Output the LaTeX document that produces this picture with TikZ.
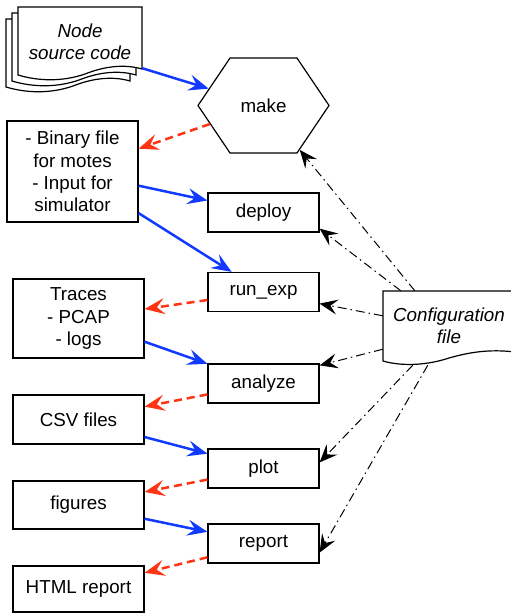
\documentclass[tikz,border=0pt]{standalone}
\usepackage{fontspec}
\setmainfont{Liberation Sans}
\usetikzlibrary{arrows.meta, shapes.symbols}
\definecolor{flowblue}{RGB}{18,58,255}
\definecolor{flowred}{RGB}{255,52,20}
\tikzset{
  task/.style     = {shape=rectangle, draw, line width=1.2pt, align=center,
                     minimum width=111pt, minimum height=39pt, inner sep=2pt},
  filebox/.style  = {task, minimum width=131pt},
  docnode/.style  = {align=center, font=\fontsize{18.8}{22.4}\selectfont\itshape},
  inarrow/.style  = {draw=flowblue, line width=2.5pt,
                     -{Stealth[length=20pt, width=16pt, inset=7.5pt]}},
  outarrow/.style = {draw=flowred, line width=2.5pt, dash pattern=on 8pt off 5pt,
                     -{Stealth[length=20pt, width=16pt, inset=7.5pt]}},
  cfgarrow/.style = {draw, line width=1pt, dash pattern=on 9pt off 4pt on 1.5pt off 4pt,
                     -{Stealth[length=18pt, width=15pt, inset=7pt]}}
}
\begin{document}
\begin{tikzpicture}
  [
  x=1pt, y=-1pt,
  every node/.style = {font=\fontsize{18.8}{22.4}\selectfont}
  ]
  \useasboundingbox (0,0) rectangle (511,614);

  % stacked source files
  \foreach \d in {12,6,0}
    \draw[fill=white, line width=1.2pt, shift={(-\d,\d)}]
      (18,7) -- (142,7) -- (142,69)
      .. controls (125,64) and (105,66) .. (85,74)
      .. controls (62,82) and (38,81) .. (18,75) -- cycle;
  \node[docnode, minimum width=124pt, minimum height=66pt] (src) at (80,42) {Node\\source code};

  % configuration file
  \draw[fill=white, line width=1.2pt]
    (383,291) -- (515,291) -- (515,352)
    .. controls (490,349) and (470,352) .. (449,358)
    .. controls (425,366) and (400,366) .. (383,361) -- cycle;
  \node[docnode, minimum width=132pt, minimum height=70pt] (cfg) at (449,326) {Configuration\\file};

  % steps
  \node[shape=signal, signal to=west and east, signal pointer angle=112,
        draw, line width=1.2pt, minimum width=131pt, minimum height=95pt, inner sep=0pt]
        (make) at (263.5,105.5) {make};
  \node[task] (deploy)  at (263.5,212.5) {deploy};
  \node[task] (runexp)  at (263.5,292)   {run\_exp};
  \node[task] (analyze) at (263.5,383.5) {analyze};
  \node[task] (plot)    at (263.5,468.5) {plot};
  \node[task] (report)  at (263.5,543.5) {report};

  % produced files
  \node[filebox, minimum height=101pt] (bin) at (72.5,171.5)
       {- Binary file\\for motes\\- Input for\\simulator};
  \node[filebox, minimum height=79pt] (traces)  at (78.5,318.5) {Traces\\- PCAP\\- logs};
  \node[filebox, minimum height=49pt] (csv)     at (78.5,419.5) {CSV files};
  \node[filebox, minimum height=48pt] (figures) at (78.5,505)   {figures};
  \node[filebox, minimum height=46pt] (html)    at (78.5,589)   {HTML report};

  % inputs
  \draw[inarrow] ([yshift=7pt]src.south east) -- (make);
  \draw[inarrow] (bin) -- (deploy);
  \draw[inarrow] (bin) -- (runexp);
  \draw[inarrow] (traces) -- (analyze);
  \draw[inarrow] (csv) -- (plot);
  \draw[inarrow] (figures) -- (report);

  % outputs
  \draw[outarrow] (make) -- (bin);
  \draw[outarrow] (runexp) -- (traces);
  \draw[outarrow] (analyze) -- (csv);
  \draw[outarrow] (plot) -- (figures);
  \draw[outarrow] (report) -- (html);

  % configuration
  \draw[cfgarrow] ([xshift=32pt]cfg.north west) -- (make);
  \draw[cfgarrow] ([xshift=18pt]cfg.north west) -- ([yshift=4pt]deploy.south east);
  \draw[cfgarrow] ([yshift=-25pt]cfg.north west) -- ([yshift=8.5pt]runexp.south east);
  \draw[cfgarrow] ([yshift=12pt]cfg.south west) -- ([yshift=-2pt]analyze.north east);
  \draw[cfgarrow] ([xshift=30pt,yshift=-4pt]cfg.south west) -- ([yshift=-14pt]plot.north east);
  \draw[cfgarrow] ([xshift=45pt,yshift=-4pt]cfg.south west) -- ([yshift=11pt]report.south east);
\end{tikzpicture}
\end{document}
